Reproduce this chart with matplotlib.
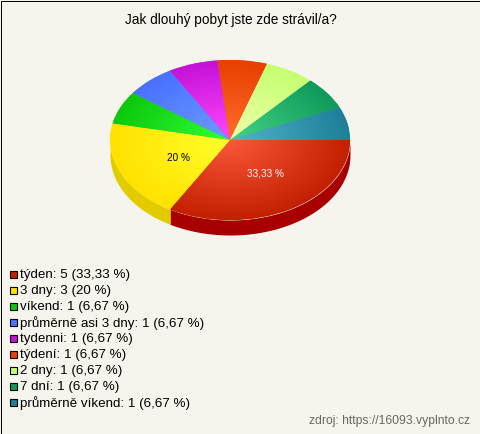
import numpy as np
import matplotlib.pyplot as plt
from matplotlib.colors import LinearSegmentedColormap
from matplotlib.patches import Rectangle

plt.rcParams['font.family'] = ['Liberation Sans', 'DejaVu Sans']

# data
kategorie = ['týden', '3 dny', 'víkend', 'průměrně asi 3 dny', 'tydenni', 'týdení', '2 dny', '7 dní', 'průměrně víkend']
pocty = [5, 3, 1, 1, 1, 1, 1, 1, 1]
procenta = ['33,33', '20', '6,67', '6,67', '6,67', '6,67', '6,67', '6,67', '6,67']

# colours: edge of the slice, centre of the pie, side wall
barvy = ['#c22000', '#ffe200', '#0cc80c', '#4a70ff', '#c412d8', '#e84000', '#c4ff70', '#0f9a5c', '#1d7f98']
barvy_stred = ['#fb583c', '#ffff2c', '#30ff36', '#6c9cff', '#ff48ff', '#ff6c2c', '#f0ffac', '#44d484', '#54b4cc']
barvy_bok = {0: '#a80000', 1: '#e2cc00'}

BG = '#f5f5ee'
W, H = 480, 434
CX, CY, RX, RY, HLOUBKA = 230, 140, 120, 80, 15

fig = plt.figure(figsize=(W / 100, H / 100), dpi=100, facecolor=BG)

# page axes in pixels, for the frame, title and legend
ax = fig.add_axes([0, 0, 1, 1])
ax.set_xlim(0, W)
ax.set_ylim(H, 0)
ax.axis('off')
ax.add_patch(Rectangle((0.5, 0.5), W - 1, H - 1, fill=False, edgecolor='black', lw=0.72))

ax.text(230.5, 20, 'Jak dlouhý pobyt jste zde strávil/a?', ha='center', va='center', fontsize=9.85, color='black')

for i, jmeno in enumerate(kategorie):
    y = 274 + i * 16
    ax.add_patch(Rectangle((10, y - 3.5), 7, 7, facecolor=barvy[i], edgecolor='black', lw=0.8))
    ax.text(20, y + 0.6, f'{jmeno}: {pocty[i]} ({procenta[i]} %)', ha='left', va='center', fontsize=9.6, color='black')

ax.text(470, 421, 'zdroj: https://16093.vyplnto.cz', ha='right', va='center', fontsize=8.7, color='#666666')

# pie axes: unit circle stretched to an ellipse
dno = HLOUBKA / RY
poz = [(CX - RX) / W, 1 - (CY + RY + HLOUBKA) / H, 2 * RX / W, (2 * RY + HLOUBKA) / H]
axp = fig.add_axes(poz)
axp.patch.set_alpha(0)

wedges, _ = axp.pie(pocty, startangle=0, counterclock=False, radius=1, colors=barvy,
                    wedgeprops={'linewidth': 0})
axp.set_aspect('auto')

# side wall of the slices facing the viewer
podil = np.cumsum([0] + pocty) / sum(pocty) * 360
for i, barva in barvy_bok.items():
    t = np.radians(np.linspace(podil[i], podil[i + 1], 80))
    axp.fill_between(np.cos(t), -np.sin(t), -np.sin(t) - dno, color=barva, lw=0, zorder=1)

# radial shading, clipped to each slice
g = np.linspace(-1, 1, 400)
xx, yy = np.meshgrid(g, g)
r = np.clip(np.hypot(xx, yy), 0, 1)
for i, w in enumerate(wedges):
    w.set_zorder(2)
    cmap = LinearSegmentedColormap.from_list(f'k{i}', [barvy_stred[i], barvy[i]])
    im = axp.imshow(r, extent=(-1, 1, -1, 1), origin='lower', cmap=cmap, vmin=0, vmax=1,
                    aspect='auto', zorder=3, interpolation='bilinear')
    im.set_clip_path(w)
axp.set_xlim(-1, 1)
axp.set_ylim(-1 - dno, 1)
axp.axis('off')

ax.set_zorder(2)
ax.patch.set_alpha(0)
ax.text(178.5, 158, f'{procenta[1]} %', ha='center', va='center', fontsize=7.2, color='black')
ax.text(265.5, 174, f'{procenta[0]} %', ha='center', va='center', fontsize=7.2, color='white')

fig.savefig('out.png', dpi=100, facecolor=BG)
